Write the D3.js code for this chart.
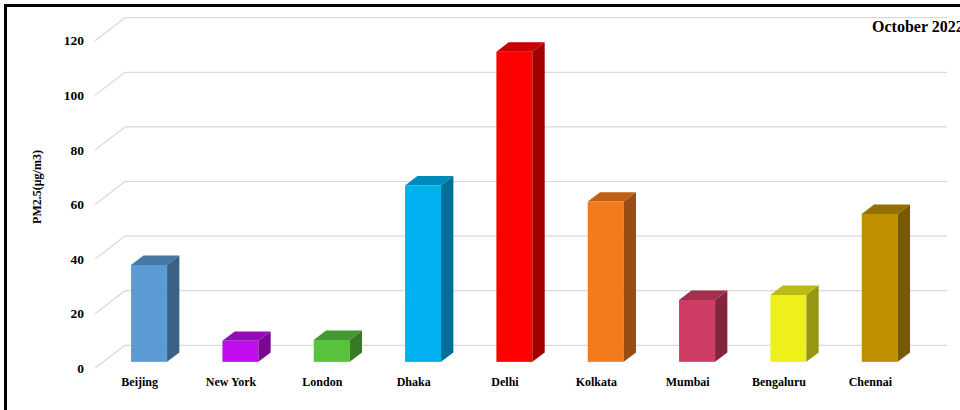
<!DOCTYPE html>
<html>
<head>
<meta charset="utf-8">
<script src="https://cdn.jsdelivr.net/npm/d3@7"></script>
<style>
  html, body { margin: 0; padding: 0; background: #fff; }
  svg { display: block; }
  text { font-family: "Liberation Serif", "Times New Roman", serif; font-weight: bold; fill: #000; }
</style>
</head>
<body>
<svg id="chart" width="960" height="410"></svg>
<script>
// ---- data ----
const cities = ["Beijing", "New York", "London", "Dhaka", "Delhi", "Kolkata", "Mumbai", "Bengaluru", "Chennai"];
const pm25 = [35.5, 7.7, 8.0, 64.6, 113.6, 58.7, 22.7, 24.5, 54.2];
const yTicks = [0, 20, 40, 60, 80, 100, 120];
const colors = ["#5B9BD5", "#C10DED", "#58C23D", "#00B0F0", "#FF0000", "#F47B1C", "#CF3C64", "#EEF01A", "#BF8F00"];
const yTitle = "PM2.5(μg/m3)";
const title = "October 2022";

// ---- layout ----
const svg = d3.select("#chart");
const W = 960, H = 410;
const depthX = 30, depthY = -23;      // full depth of the wall
const f1 = 0.28, f2 = 0.69;           // bar front/back depth fractions

const x = d3.scaleBand().domain(cities).range([95, 917]).paddingInner(0.606).paddingOuter(0.303);
const y = d3.scaleLinear().domain([0, 120]).range([368.3, 40.7]);

// frame
svg.append("rect").attr("x", 5.5).attr("y", 5.5).attr("width", 1200).attr("height", 1200)
  .attr("fill", "none").attr("stroke", "#000").attr("stroke-width", 3);

// gridlines: side diagonals + back wall
const grid = svg.append("g").attr("stroke", "#d9d9d9").attr("stroke-width", 1.2).attr("fill", "none");
yTicks.forEach(t => {
  const yy = y(t);
  grid.append("line").attr("x1", 95).attr("y1", yy).attr("x2", 95 + depthX).attr("y2", yy + depthY);
  grid.append("line").attr("x1", 95 + depthX).attr("y1", yy + depthY).attr("x2", 917 + depthX).attr("y2", yy + depthY);
});

// tick labels
svg.append("g").selectAll("text").data(yTicks).join("text")
  .attr("x", 84).attr("y", d => y(d)).attr("dy", "0.35em")
  .attr("text-anchor", "end").style("font-size", "13.5px")
  .text(d => d);

// bars
const bw = x.bandwidth();
const ox = depthX * f1, oy = depthY * f1;
const dx = depthX * (f2 - f1), dy = depthY * (f2 - f1);
const bars = svg.append("g");
cities.forEach((c, i) => {
  const base = d3.color(colors[i]);
  const top = d3.rgb(base.r * 0.78, base.g * 0.78, base.b * 0.78);
  const side = d3.rgb(base.r * 0.63, base.g * 0.63, base.b * 0.63);
  const x0 = x(c) + ox;
  const yb = y(0) + oy;
  const yt = y(pm25[i]) + oy;
  const g = bars.append("g");
  g.append("rect").attr("x", x0).attr("y", yt).attr("width", bw).attr("height", yb - yt).attr("fill", base.formatHex());
  g.append("path").attr("d", `M${x0},${yt}L${x0 + bw},${yt}L${x0 + bw + dx},${yt + dy}L${x0 + dx},${yt + dy}Z`).attr("fill", top.formatHex());
  g.append("path").attr("d", `M${x0 + bw},${yt}L${x0 + bw + dx},${yt + dy}L${x0 + bw + dx},${yb + dy}L${x0 + bw},${yb}Z`).attr("fill", side.formatHex());
});

// category labels
svg.append("g").selectAll("text").data(cities).join("text")
  .attr("x", d => x(d) + bw / 2 - 1).attr("y", 386)
  .attr("text-anchor", "middle").style("font-size", "12px")
  .text(d => d);

// y title
svg.append("text").attr("transform", "translate(41,187) rotate(-90)")
  .attr("text-anchor", "middle").style("font-size", "12px").text(yTitle);

// title
svg.append("text").attr("x", 872).attr("y", 32).style("font-size", "16px").text(title);
</script>
</body>
</html>
